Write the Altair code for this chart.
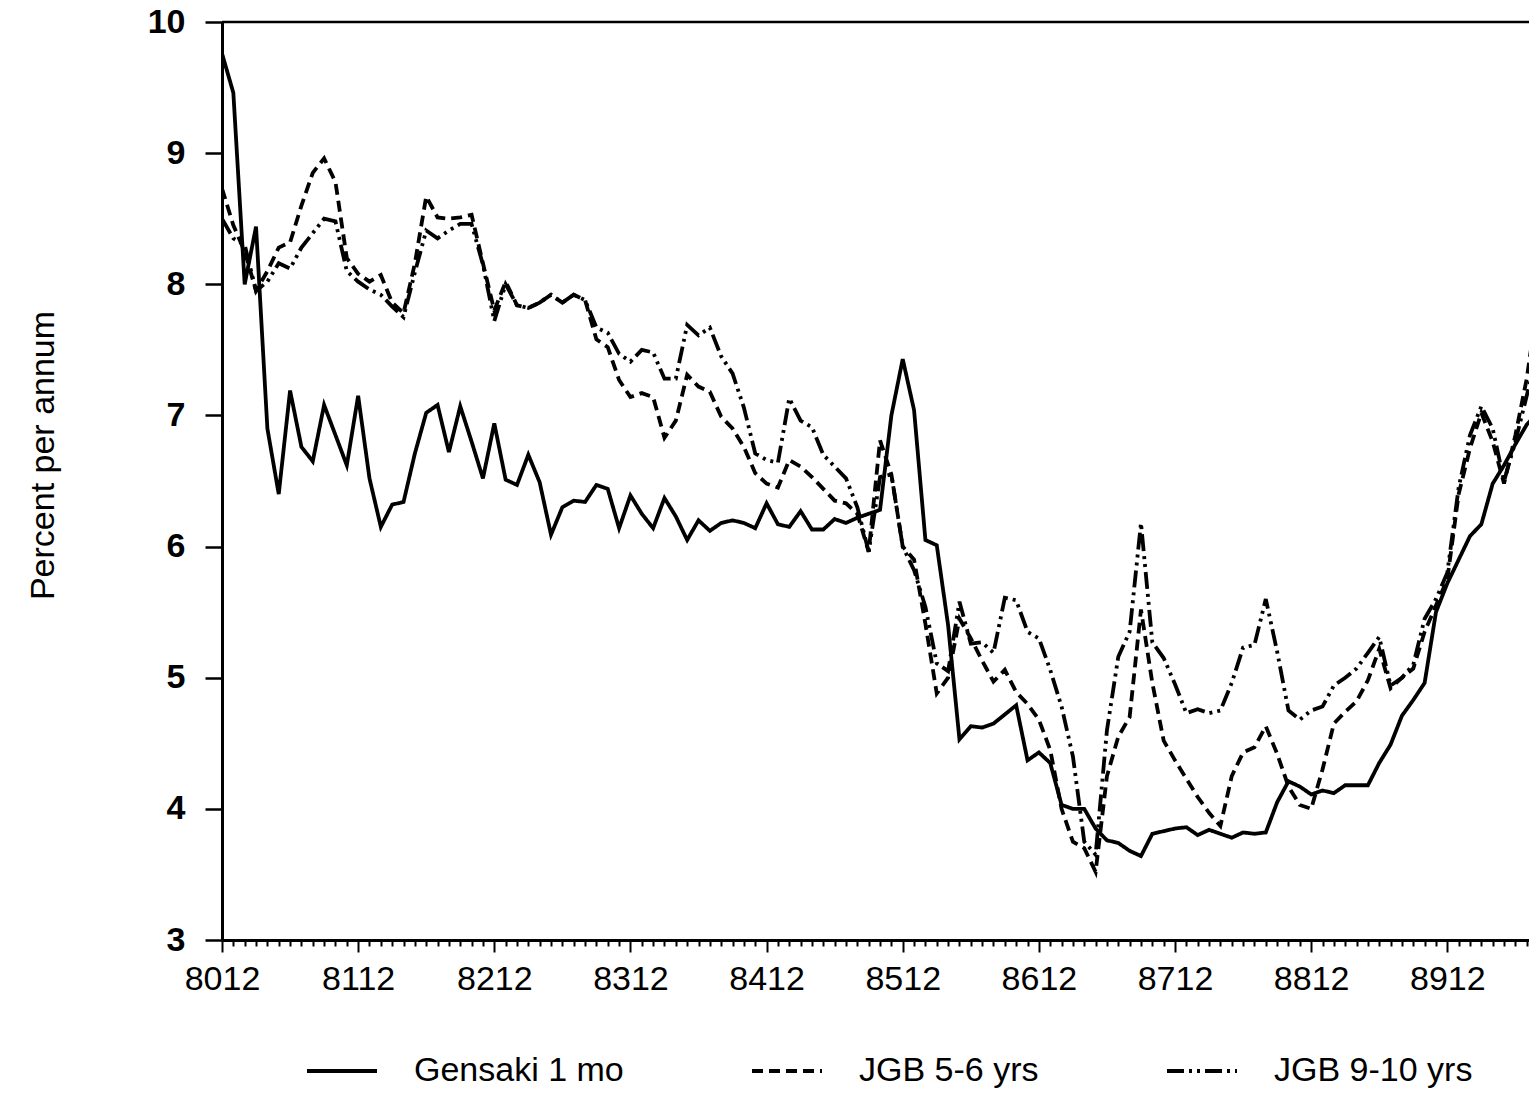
import altair as alt
import pandas as pd

# Monthly yields, December 1980 (8012) onward, percent per annum
GENSAKI = [9.76, 9.46, 8.00, 8.44, 6.90, 6.40, 7.19, 6.76, 6.65, 7.08, 6.85, 6.62,
           7.15, 6.52, 6.15, 6.32, 6.34, 6.71, 7.02, 7.08, 6.72, 7.07, 6.80, 6.52,
           6.94, 6.51, 6.47, 6.70, 6.49, 6.09, 6.30, 6.35, 6.34, 6.47, 6.44, 6.14,
           6.39, 6.25, 6.14, 6.37, 6.23, 6.05, 6.20, 6.12, 6.18, 6.20, 6.18, 6.14,
           6.33, 6.17, 6.15, 6.27, 6.13, 6.13, 6.21, 6.18, 6.22, 6.25, 6.28, 7.00,
           7.43, 7.04, 6.05, 6.01, 5.40, 4.53, 4.63, 4.62, 4.65, 4.72, 4.79, 4.37,
           4.43, 4.35, 4.03, 4.00, 4.00, 3.85, 3.76, 3.74, 3.68, 3.64, 3.81, 3.83,
           3.85, 3.86, 3.80, 3.84, 3.81, 3.78, 3.82, 3.81, 3.82, 4.05, 4.21, 4.17,
           4.11, 4.14, 4.12, 4.18, 4.18, 4.18, 4.35, 4.49, 4.71, 4.83, 4.96, 5.50,
           5.72, 5.90, 6.08, 6.17, 6.48, 6.62, 6.78, 6.93, 7.02]

JGB_5_6 = [8.73, 8.45, 8.25, 7.95, 8.10, 8.28, 8.32, 8.60, 8.85, 8.96, 8.78, 8.20,
           8.08, 8.02, 8.07, 7.86, 7.78, 8.16, 8.67, 8.51, 8.50, 8.51, 8.53, 8.16,
           7.80, 8.02, 7.84, 7.82, 7.86, 7.92, 7.86, 7.92, 7.88, 7.58, 7.52, 7.27,
           7.14, 7.17, 7.14, 6.83, 6.96, 7.31, 7.22, 7.18, 6.99, 6.90, 6.76, 6.56,
           6.48, 6.45, 6.66, 6.61, 6.53, 6.44, 6.35, 6.33, 6.25, 5.96, 6.81, 6.55,
           6.00, 5.90, 5.41, 4.88, 5.00, 5.45, 5.30, 5.13, 4.97, 5.06, 4.89, 4.80,
           4.68, 4.45, 4.00, 3.75, 3.70, 3.52, 4.25, 4.55, 4.70, 5.52, 4.96, 4.52,
           4.37, 4.23, 4.09, 3.97, 3.87, 4.25, 4.43, 4.47, 4.63, 4.42, 4.17, 4.03,
           4.00, 4.30, 4.65, 4.74, 4.82, 4.98, 5.22, 4.92, 5.00, 5.07, 5.35, 5.55,
           5.75, 6.40, 6.75, 7.02, 6.80, 6.48, 6.85, 7.28, 7.88]

JGB_9_10 = [8.50, 8.35, 8.30, 7.95, 8.02, 8.16, 8.12, 8.28, 8.39, 8.50, 8.48, 8.10,
            8.02, 7.96, 7.92, 7.83, 7.75, 8.09, 8.41, 8.35, 8.41, 8.46, 8.46, 8.15,
            7.72, 8.00, 7.84, 7.82, 7.86, 7.92, 7.86, 7.92, 7.88, 7.67, 7.63, 7.47,
            7.41, 7.50, 7.48, 7.28, 7.28, 7.69, 7.61, 7.67, 7.45, 7.32, 7.06, 6.71,
            6.66, 6.64, 7.13, 6.96, 6.91, 6.70, 6.61, 6.52, 6.30, 5.96, 6.53, 6.55,
            6.00, 5.82, 5.54, 5.11, 5.05, 5.58, 5.26, 5.27, 5.19, 5.61, 5.59, 5.35,
            5.30, 5.06, 4.78, 4.40, 3.75, 3.65, 4.60, 5.16, 5.35, 6.18, 5.27, 5.15,
            4.95, 4.73, 4.76, 4.73, 4.75, 4.96, 5.23, 5.25, 5.60, 5.20, 4.75, 4.68,
            4.75, 4.78, 4.94, 5.00, 5.07, 5.19, 5.31, 4.94, 5.00, 5.10, 5.45, 5.60,
            5.80, 6.45, 6.85, 7.07, 6.90, 6.50, 6.80, 7.15, 7.50]

SERIES = ["Gensaki 1 mo", "JGB 5-6 yrs", "JGB 9-10 yrs"]
Y_TICKS = [3, 4, 5, 6, 7, 8, 9, 10]

rows = []
for name, vals in zip(SERIES, [GENSAKI, JGB_5_6, JGB_9_10]):
    for i, v in enumerate(vals):
        rows.append({"month": i, "rate": v, "series": name})
df = pd.DataFrame(rows)

PLOT_W = 1307
PLOT_H = 918
FONT = "Liberation Sans"

x_axis = alt.Axis(
    values=list(range(0, 116)),
    tickSize={"condition": {"test": "datum.value % 12 === 0", "value": 12}, "value": 6},
    tickWidth=2,
    tickColor="black",
    domainColor="black",
    domainWidth=3,
    labelExpr="datum.value % 12 === 0 ? format(8012 + datum.value / 12 * 100, 'd') : ''",
    labelOverlap=False,
    labelFlush=False,
    labelBound=False,
    labelFont=FONT,
    labelFontSize=34,
    labelColor="black",
    labelPadding=10,
    grid=False,
    title=None,
)

y_axis = alt.Axis(
    values=Y_TICKS,
    tickSize=17,
    tickWidth=2.5,
    tickColor="black",
    domainColor="black",
    domainWidth=3,
    labelFont=FONT,
    labelFontSize=34,
    labelFontWeight="bold",
    labelColor="black",
    labelPadding=20,
    grid=False,
    title="Percent per annum",
    titleFont=FONT,
    titleFontSize=34,
    titleFontWeight="normal",
    titleColor="black",
    titleX=-179,
    titleY=433,
    titleAngle=270,
    titleAlign="center",
    titleBaseline="middle",
)

lines = alt.Chart(df).mark_line(color="black", strokeWidth=3.8, clip=True).encode(
    x=alt.X("month:Q", scale=alt.Scale(domain=[0, 115.2], nice=False, zero=False), axis=x_axis),
    y=alt.Y("rate:Q", scale=alt.Scale(domain=[3, 10], nice=False, zero=False), axis=y_axis),
    strokeDash=alt.StrokeDash(
        "series:N",
        scale=alt.Scale(domain=SERIES, range=[[1, 0], [11, 6], [17, 5, 3, 5, 3, 5]]),
        legend=alt.Legend(
            orient="none",
            legendX=83,
            legendY=1012,
            direction="horizontal",
            title=None,
            symbolType="stroke",
            symbolSize=4900,
            symbolStrokeWidth=3.8,
            symbolStrokeColor="black",
            labelFont=FONT,
            labelFontSize=34,
            labelColor="black",
            labelOffset=35,
            labelLimit=0,
            columnPadding=120,
        ),
    ),
    detail="series:N",
)

top_border = alt.Chart(pd.DataFrame({"k": [0]})).mark_rule(color="black", strokeWidth=2.5).encode(
    x=alt.value(0), x2=alt.value(PLOT_W), y=alt.value(0)
)

chart = alt.layer(lines, top_border).properties(
    width=PLOT_W,
    height=PLOT_H,
    autosize=alt.AutoSizeParams(type="none"),
    padding={"left": 214, "top": 14, "right": 0, "bottom": 152},
    background="white",
).configure_view(stroke=None)

chart.save("out.html", embed_options={"renderer": "svg", "actions": False})
